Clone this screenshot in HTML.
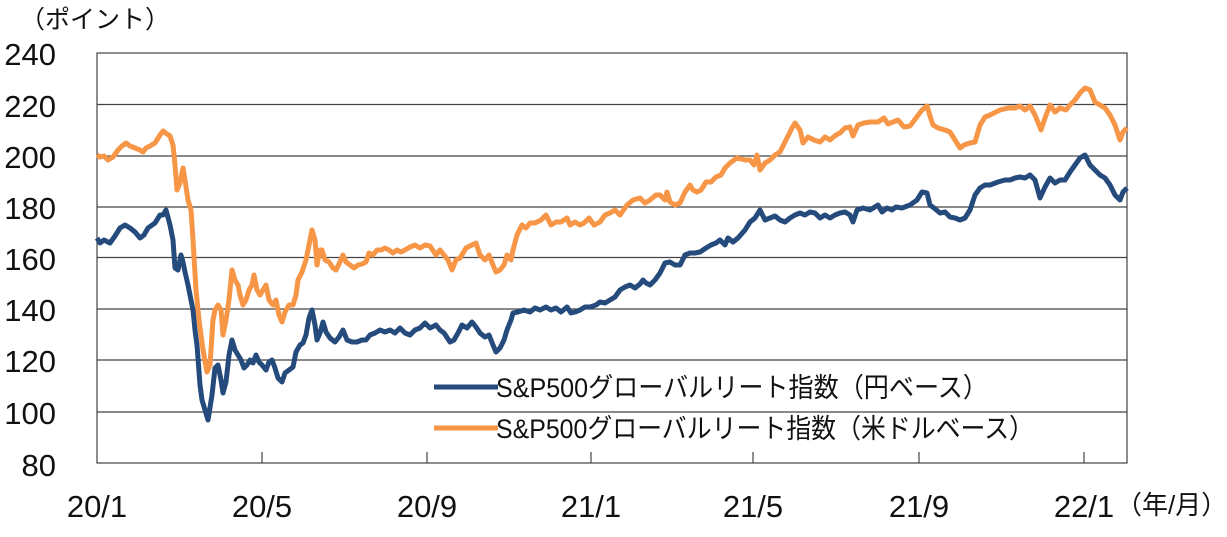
<!DOCTYPE html>
<html><head><meta charset="utf-8"><style>
html,body{margin:0;padding:0;background:#fff;}
svg{display:block;}
text{font-family:"Liberation Sans","Noto Sans CJK JP",sans-serif;fill:#111;}
</style></head><body>
<svg width="1227" height="537" viewBox="0 0 1227 537" xmlns="http://www.w3.org/2000/svg">
<rect x="0" y="0" width="1227" height="537" fill="#fff"/>
<g stroke="#444" stroke-width="1.2" fill="none">
<line x1="97" y1="104.5" x2="1127" y2="104.5"/>
<line x1="97" y1="156" x2="1127" y2="156"/>
<line x1="97" y1="207" x2="1127" y2="207"/>
<line x1="97" y1="257.5" x2="1127" y2="257.5"/>
<line x1="97" y1="309" x2="1127" y2="309"/>
<line x1="97" y1="360" x2="1127" y2="360"/>
<line x1="97" y1="412" x2="1127" y2="412"/>
<rect x="97" y="53" width="1030" height="410"/>
<line x1="262" y1="452" x2="262" y2="463"/>
<line x1="427" y1="452" x2="427" y2="463"/>
<line x1="591" y1="452" x2="591" y2="463"/>
<line x1="753" y1="452" x2="753" y2="463"/>
<line x1="919" y1="452" x2="919" y2="463"/>
<line x1="1084" y1="452" x2="1084" y2="463"/>
</g>
<g font-size="31" text-anchor="end">
<text x="56" y="65">240</text>
<text x="56" y="117">220</text>
<text x="56" y="168">200</text>
<text x="56" y="219">180</text>
<text x="56" y="270">160</text>
<text x="56" y="321">140</text>
<text x="56" y="372">120</text>
<text x="56" y="424">100</text>
<text x="56" y="476">80</text>
</g>
<g font-size="31" text-anchor="middle">
<text x="97" y="517">20/1</text>
<text x="262" y="517">20/5</text>
<text x="427" y="517">20/9</text>
<text x="591" y="517">21/1</text>
<text x="753" y="517">21/5</text>
<text x="919" y="517">21/9</text>
<text x="1084" y="517">22/1</text>
</g>
<text x="20" y="28" font-size="25">（ポイント）</text>
<text x="1116" y="514" font-size="26">（年/月）</text>

<polyline fill="none" stroke="#f79646" stroke-width="5" stroke-linejoin="round" points="97,155 100,157 104,156 108,160 113,157 118,150 122,146 126,143 130,146 135,148 140,150 143,152 146,148 150,146 155,143 160,135 163,131 167,134 170,136 173,145 175,165 177,190 180,183 183,168 185,180 188,200 191,210 193,240 196,290 199,320 203,350 207,372 210,365 213,320 215,310 218,305 221,310 223,335 226,320 229,300 232,270 235,280 238,285 240,295 243,305 246,300 249,290 252,285 254,275 257,290 260,295 263,290 266,285 269,300 273,305 276,300 279,315 282,322 285,312 289,305 293,305 296,295 298,280 302,272 306,260 309,245 312,230 315,240 317,265 320,250 322,250 325,260 329,262 333,268 336,270 339,264 343,255 346,262 350,265 354,268 358,265 362,264 366,262 369,253 373,255 377,250 381,250 385,248 389,250 393,253 397,250 401,252 405,250 410,247 415,245 420,248 425,245 430,246 436,255 440,250 444,255 448,260 452,270 456,260 460,258 466,248 472,245 476,243 480,255 485,260 489,255 493,265 496,272 500,270 504,265 507,255 511,260 513,250 517,235 522,225 526,228 530,223 535,223 541,220 546,215 551,225 556,222 561,222 567,218 570,225 575,222 580,225 584,223 589,218 594,225 600,222 605,215 610,213 615,210 620,215 627,205 633,200 640,198 645,203 650,200 656,195 660,195 665,200 667,192 670,202 675,205 680,203 685,192 690,185 693,190 697,192 701,190 706,182 711,182 716,177 721,175 725,168 730,163 737,158 745,160 750,160 754,165 757,155 760,170 765,163 770,160 775,155 780,152 786,140 792,128 795,123 800,130 803,143 808,137 814,140 820,142 825,137 830,140 836,135 840,133 845,128 850,127 853,136 858,125 864,123 870,122 878,122 884,118 888,124 893,122 898,120 904,127 910,126 916,118 922,110 927,106 930,116 933,125 938,128 945,130 950,132 955,140 960,148 964,145 970,143 975,142 980,125 985,117 990,115 1000,110 1008,108 1015,108 1020,106 1025,110 1030,106 1035,115 1041,130 1045,118 1050,105 1055,112 1060,108 1066,110 1070,105 1075,100 1080,93 1085,88 1090,90 1095,102 1100,105 1105,108 1110,115 1115,125 1120,140 1123,132 1127,128"/>

<polyline fill="none" stroke="#254a7c" stroke-width="5" stroke-linejoin="round" points="97,238 100,243 104,240 110,243 115,236 120,228 125,225 130,228 135,232 140,238 144,235 148,228 155,223 160,215 163,215 166,210 170,225 173,240 175,268 178,270 181,255 183,262 185,272 188,285 191,300 193,310 195,330 197,345 200,385 202,400 205,410 208,420 212,395 215,368 218,365 221,380 223,393 226,382 229,355 232,340 235,350 238,355 241,360 244,368 247,365 250,360 253,363 256,355 259,362 262,365 266,370 269,362 272,360 275,368 278,378 282,382 285,373 289,370 293,367 296,352 300,345 303,343 306,335 309,318 312,310 315,325 317,340 320,333 323,322 326,332 330,338 335,342 339,337 343,330 347,340 352,342 357,342 362,340 366,340 370,335 375,333 380,330 385,332 390,330 395,333 400,328 405,333 410,335 415,330 420,328 425,323 430,328 436,325 440,330 444,333 450,342 454,340 458,333 462,325 467,328 472,322 476,327 480,333 485,337 489,335 493,345 496,352 500,348 504,340 507,330 511,320 513,313 518,312 524,310 530,312 535,308 540,310 546,307 551,310 556,308 561,312 567,307 571,313 575,312 580,310 585,307 590,307 596,305 600,302 605,303 610,300 615,297 620,290 625,287 630,285 635,288 640,284 643,280 646,283 650,285 655,280 660,273 665,263 670,262 675,265 680,265 685,255 690,253 695,253 700,252 706,248 711,245 716,243 720,240 725,245 728,238 733,242 738,238 745,230 750,222 755,218 760,210 765,220 770,218 775,216 780,220 785,222 790,218 795,215 800,213 805,215 810,212 815,213 820,218 825,215 830,218 835,215 840,213 845,212 850,215 853,222 857,210 863,208 870,210 878,205 882,212 887,208 892,210 896,207 902,208 910,205 917,200 922,192 927,193 930,205 934,208 940,213 945,212 950,217 955,218 960,220 965,218 970,210 975,195 980,188 985,185 990,185 998,182 1005,180 1010,180 1015,178 1020,177 1025,178 1030,175 1035,180 1040,198 1045,187 1050,178 1055,183 1060,180 1065,180 1070,172 1075,165 1080,158 1085,155 1090,165 1095,170 1100,175 1105,178 1110,185 1115,195 1120,200 1123,192 1127,188"/>

<line x1="434" y1="387" x2="498" y2="387" stroke="#254a7c" stroke-width="5"/>
<line x1="434" y1="428" x2="498" y2="428" stroke="#f79646" stroke-width="5"/>
<g font-size="27">
<text x="496" y="397" textLength="492" lengthAdjust="spacingAndGlyphs">S&amp;P500グローバルリート指数（円ベース）</text>
<text x="496" y="438" textLength="538" lengthAdjust="spacingAndGlyphs">S&amp;P500グローバルリート指数（米ドルベース）</text>
</g>
</svg>
</body></html>
